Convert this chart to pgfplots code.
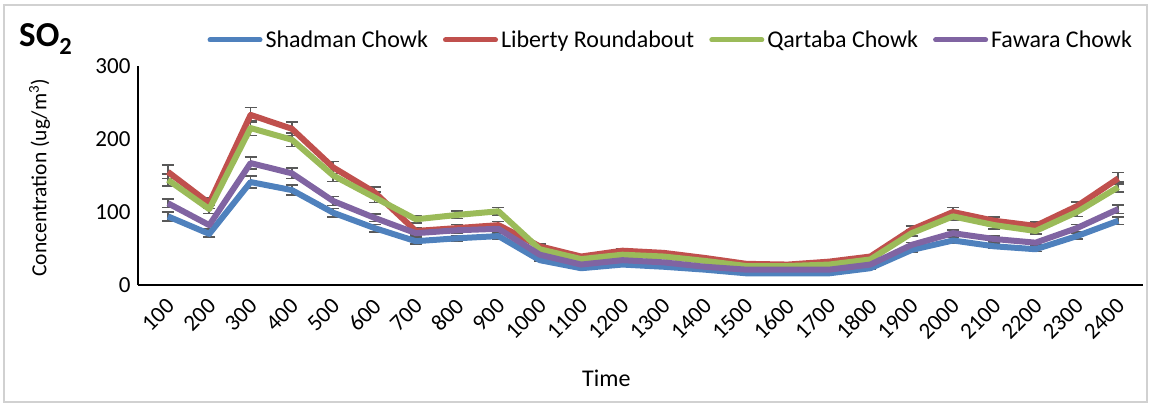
\documentclass[border=0pt]{standalone}
\usepackage{fontspec}
\setmainfont{Carlito}
\usepackage{pgfplots}
\usepackage{pgfplotstable}
\pgfplotsset{compat=1.18}

\definecolor{shadman}{HTML}{4F81BD}
\definecolor{liberty}{HTML}{C0504D}
\definecolor{qartaba}{HTML}{9BBB59}
\definecolor{fawara}{HTML}{8064A2}
\definecolor{errgray}{HTML}{595959}

% hourly SO2 concentration (ug/m3) with standard errors
\pgfplotstableread{
x  b    be  r    re  g     ge  p     pe
1  94   6   155  9   144   8   112   6
2  70   4   112  7   104   6   82    5
3  141  8   233  10  215   10  167   8
4  130  7   214  9   199   9   153   7
5  99   6   161  8   150   8   115   6
6  78   5   127  7   120   7   92    5
7  60   4   74   4   90    5   71    4
8  64   4   78   5   96    5   75    4
9  67   4   82   5   101   5   77    4
10 34   1   53   3   49    3   41.5  1
11 23   1   39   1   35.5  1   28    1
12 28   1   47   3   41.5  1   34    1
13 25   1   44   1   39    1   31    1
14 21   1   37   1   33    1   25    1
15 16   1   29   1   26    1   21    1
16 16   1   28   1   26    1   21    1
17 16   1   32   1   28    1   21    1
18 23   1   39   1   35    1   28    1
19 48   3   76   5   71    4   55    3
20 61   4   100  6   94    5   71    4
21 53   3   88   5   82    5   63    4
22 49   3   81   5   74    4   58    3
23 67   4   108  6   100   6   78    5
24 88   5   146  8   134   7   104   6
}\sodata

\begin{document}
\begin{tikzpicture}[x=1pt,y=1pt]
\useasboundingbox (0,0) rectangle (1150,405);
\draw[black!18, line width=1.2pt] (4,3) rectangle (1147,400);
\node[anchor=base west, font=\fontsize{35}{40}\selectfont\bfseries, inner sep=0pt]
  at (19,358) {SO\textsubscript{2}};
\begin{axis}[
  at={(138pt,120pt)}, anchor=south west,
  scale only axis, width=1005pt, height=219pt,
  xmin=0.275, xmax=24.6, ymin=0, ymax=300,
  axis x line=bottom, axis y line=left,
  axis line style={-, black},
  x axis line style={line width=2pt},
  y axis line style={line width=1.3pt},
  major tick length=0pt,
  ytick={0,100,200,300},
  xtick={1,...,24},
  xticklabels={100,200,300,400,500,600,700,800,900,1000,1100,1200,1300,1400,1500,1600,1700,1800,1900,2000,2100,2200,2300,2400},
  /pgf/number format/assume math mode=true,
  tick label style={font=\fontsize{23}{27}\selectfont},
  yticklabel style={xshift=-4pt},
  xticklabel style={xshift=5pt, yshift=-15pt, rotate=45, anchor=east},
  xlabel={Time},
  ylabel={Concentration (ug/m\textsuperscript{3})},
  xlabel style={font=\fontsize{24}{28}\selectfont, at={(axis description cs:0.466,-0.425)}, anchor=center},
  ylabel style={font=\fontsize{21.5}{26}\selectfont, at={(axis description cs:-0.098,0.49)}, anchor=center, rotate=0},
  legend columns=4,
  legend style={at={(axis description cs:0.066,1.119)}, anchor=west,
    draw=none, fill=none, font=\fontsize{24}{28}\selectfont,
    nodes={inner xsep=3pt},
    /tikz/every even column/.append style={column sep=12pt}},
  legend image code/.code={\draw[#1, line width=5pt, line cap=round] (2.5pt,0pt) -- (52.5pt,0pt);},
  series/.style={line width=6pt, line join=round, mark=none},
  errs/.style={forget plot, draw=none, mark=none,
    error bars/y dir=both, error bars/y explicit,
    error bars/error mark=-,
    error bars/error mark options={rotate=90, draw=errgray, line width=1.6pt, mark size=6pt},
    error bars/error bar style={draw=errgray, line width=1.6pt}},
]
% error bars underneath the lines
\addplot[errs] table[x=x, y=b, y error=be] {\sodata};
\addplot[errs] table[x=x, y=r, y error=re] {\sodata};
\addplot[errs] table[x=x, y=g, y error=ge] {\sodata};
\addplot[errs] table[x=x, y=p, y error=pe] {\sodata};
% the four monitoring sites
\addplot[series, shadman] table[x=x, y=b] {\sodata};
\addlegendentry{Shadman Chowk}
\addplot[series, liberty] table[x=x, y=r] {\sodata};
\addlegendentry{Liberty Roundabout}
\addplot[series, qartaba] table[x=x, y=g] {\sodata};
\addlegendentry{Qartaba Chowk}
\addplot[series, fawara] table[x=x, y=p] {\sodata};
\addlegendentry{Fawara Chowk}
\end{axis}
\end{tikzpicture}
\end{document}
